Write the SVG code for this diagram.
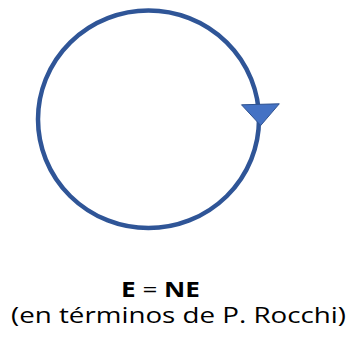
<svg xmlns="http://www.w3.org/2000/svg" width="348" height="343" viewBox="0 0 348 343">
<style>
.loop{fill:none;stroke:#2F5597;stroke-width:4.5}
.head{fill:#4472C4;stroke:#2F528F;stroke-width:1;stroke-linejoin:miter}
.t{font-family:"Open Sans","Noto Sans",sans-serif;font-size:22px;fill:#000;text-anchor:middle}
.b{font-weight:bold}
</style>
<rect width="348" height="343" fill="#fff"/>
<g id="cycle">
<ellipse class="loop" cx="148.5" cy="119.3" rx="110.5" ry="108.8"/>
<polygon class="head" points="241.5,104.8 279.3,103.8 260.7,125.5"/>
</g>
<g id="label">
<text class="t" x="160.5" y="296.7" textLength="79" lengthAdjust="spacingAndGlyphs"><tspan class="b">E</tspan> = <tspan class="b">NE</tspan></text>
<text class="t" x="178.5" y="323.3" textLength="335" lengthAdjust="spacingAndGlyphs">(en términos de P. Rocchi)</text>
</g>
</svg>
